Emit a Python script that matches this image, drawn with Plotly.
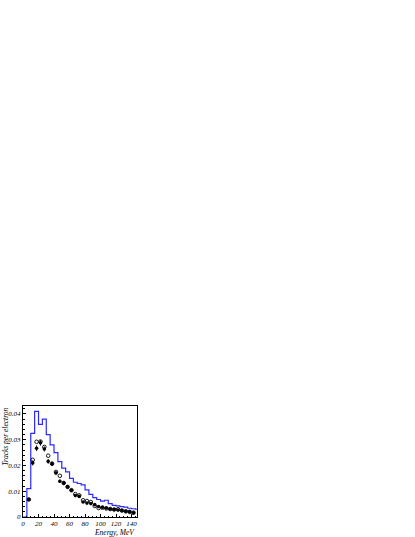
import plotly.graph_objects as go

# ---- data ----
bin_edges = [0, 5, 10, 15, 20, 25, 30, 35, 40, 45, 50, 55, 60, 65, 70, 75, 80, 85, 90, 95,
             100, 105, 110, 115, 120, 125, 130, 135, 140, 145, 150]
hist_values = [0, 0.011, 0.0325, 0.041, 0.036, 0.038, 0.032, 0.028, 0.025, 0.0215,
               0.019, 0.0175, 0.015, 0.0135, 0.013, 0.0125, 0.0105, 0.0088, 0.0075, 0.0068,
               0.0062, 0.0065, 0.0052, 0.0045, 0.0043, 0.004, 0.0038, 0.0034, 0.0032, 0.003]

point_x = [7.5, 12.5, 17.5, 22.5, 27.5, 32.5, 37.5, 42.5, 47.5, 52.5, 57.5, 62.5, 67.5, 72.5,
           77.5, 82.5, 87.5, 92.5, 97.5, 102.5, 107.5, 112.5, 117.5, 122.5, 127.5, 132.5,
           137.5, 142.5]
filled_y = [0.0068, 0.021, 0.0267, 0.0288, 0.0264, 0.0216, 0.0207, 0.0171, 0.0139, 0.0132,
            0.0117, 0.0104, 0.0083, 0.008, 0.0058, 0.0054, 0.0052, 0.0048, 0.0041, 0.0038,
            0.0035, 0.0031, 0.0029, 0.0027, 0.0025, 0.0022, 0.002, 0.0016]
filled_err = [0.0006, 0.001, 0.0011, 0.0011, 0.001, 0.0009, 0.0009, 0.0008, 0.0007, 0.0007,
              0.0006, 0.0006, 0.0005, 0.0005, 0.0004, 0.0004, 0.0004, 0.0004, 0.0003, 0.0003,
              0.0003, 0.0003, 0.0003, 0.0003, 0.0003, 0.0003, 0.0003, 0.0003]
open_y = [0.0068, 0.0222, 0.0292, 0.0293, 0.0272, 0.0238, 0.0207, 0.0175, 0.016, 0.0132,
          0.0117, 0.0104, 0.0089, 0.0084, 0.0065, 0.0062, 0.0058, 0.0043, 0.0035, 0.0036,
          0.0033, 0.0031, 0.0029, 0.003, 0.0025, 0.0022, 0.002, 0.0017]

y_tickvals = [0, 0.01, 0.02, 0.03, 0.04]
y_ticktext = ["0", "0.01", "0.02", "0.03", "0.04"]
x_tickvals = [0, 20, 40, 60, 80, 100, 120, 140]
x_ticktext = ["0", "20", "40", "60", "80", "100", "120", "140"]

FONT = "Liberation Serif"

step_x = bin_edges[:-1] + [bin_edges[-1]]
step_y = hist_values + [hist_values[-1]]

fig = go.Figure()
fig.add_trace(go.Scatter(x=step_x, y=step_y, mode="lines", line_shape="hv",
                         line=dict(color="#2a2aff", width=1.2), showlegend=False,
                         hoverinfo="skip"))
fig.add_trace(go.Scatter(x=point_x, y=open_y, mode="markers",
                         marker=dict(symbol="circle-open", size=3.6, color="black",
                                     line=dict(width=0.9, color="black")),
                         showlegend=False))
fig.add_trace(go.Scatter(x=point_x, y=filled_y, mode="markers",
                         error_y=dict(type="data", array=filled_err, thickness=0.9, width=0,
                                      color="black"),
                         marker=dict(symbol="circle", size=3.6, color="black"),
                         showlegend=False))

axis_common = dict(showline=True, linecolor="black", linewidth=1, mirror=True,
                   ticks="inside", tickcolor="black", tickwidth=0.6,
                   showgrid=False, zeroline=False, automargin=False,
                   tickfont=dict(family=FONT, size=7, color="black", style="italic"))

fig.update_xaxes(range=[0, 147], tickvals=x_tickvals, ticktext=x_ticktext, ticklen=3,
                 minor=dict(dtick=5, ticks="inside", ticklen=1.5, tickcolor="black",
                            tickwidth=0.6),
                 **axis_common)
fig.update_yaxes(range=[0, 0.0431], tickvals=y_tickvals, ticktext=y_ticktext, ticklen=3,
                 minor=dict(dtick=0.002, ticks="inside", ticklen=1.5, tickcolor="black",
                            tickwidth=0.6),
                 **axis_common)

fig.add_annotation(text="Tracks per electron", xref="paper", yref="paper",
                   x=-0.16, y=1.0, xanchor="center", yanchor="top", textangle=-90,
                   showarrow=False,
                   font=dict(family=FONT, size=7.5, color="black", style="italic"))
fig.add_annotation(text="Energy, MeV", xref="paper", yref="paper",
                   x=1.0, y=-0.142, xanchor="right", yanchor="middle",
                   showarrow=False,
                   font=dict(family=FONT, size=7.5, color="black", style="italic"))

fig.update_layout(width=415, height=537, autosize=False, template="none",
                  margin=dict(l=23, r=277.5, t=406, b=20, autoexpand=False),
                  paper_bgcolor="white", plot_bgcolor="white")

# remove the default 8px page margin so the figure sits at the window's corner
fig.write_html("out.html", config={"displayModeBar": False},
               post_script="document.body.style.margin='0';document.body.style.overflow='hidden';")
